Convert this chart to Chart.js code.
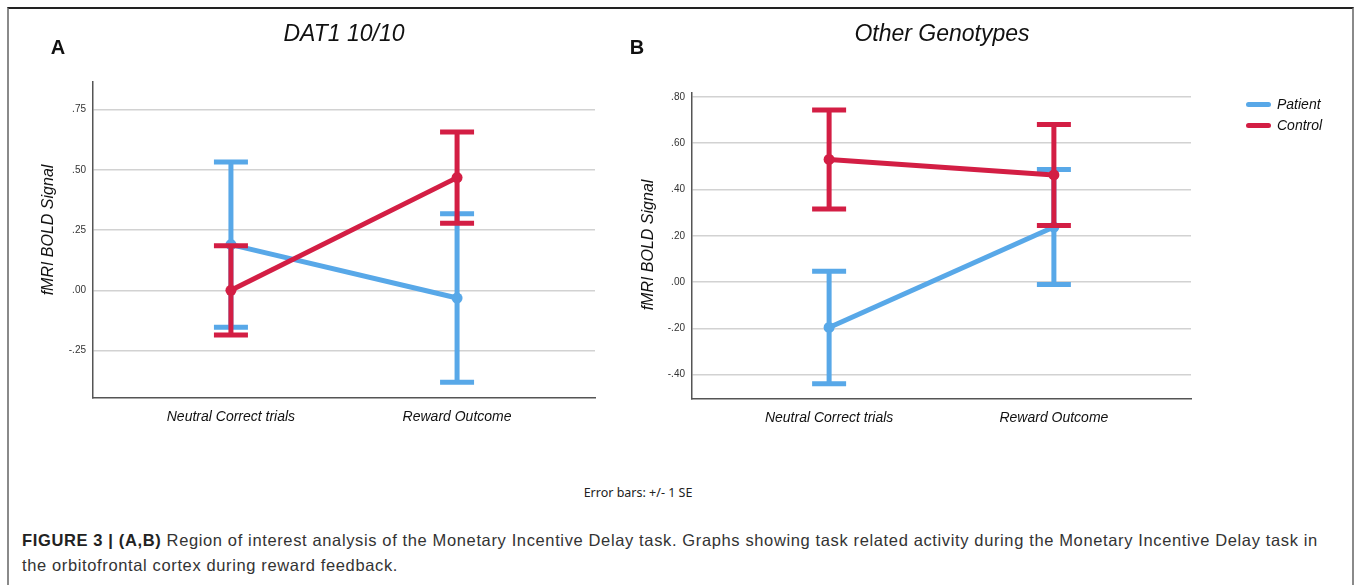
<!DOCTYPE html>
<html>
<head>
<meta charset="utf-8">
<title>Figure 3</title>
<script src="https://cdn.jsdelivr.net/npm/chart.js@4.4.1/dist/chart.umd.min.js"></script>
<style>
body { margin: 0; background: #fff; font-family: "Liberation Sans", Arial, sans-serif; }
#page { position: relative; width: 1357px; height: 585px; overflow: hidden; }
#frame { position: absolute; left: 7px; top: 7px; width: 1343px; height: 600px;
         border-top: 2px solid #222; border-left: 2px solid #8a8a8a; border-right: 2px solid #8a8a8a; }
canvas { position: absolute; top: 0; }
.txt { position: absolute; white-space: nowrap; color: #111; transform: translate(-50%, -50%); line-height: 1; }
.title { font-size: 23px; font-style: italic; }
.panel { font-size: 20px; font-weight: bold; }
.ytitle { font-size: 16px; font-style: italic; transform: translate(-50%, -50%) rotate(-90deg); }
.leg { position: absolute; font-size: 14px; font-style: italic; color: #111; line-height: 1; }
.sw { position: absolute; width: 25px; height: 5px; border-radius: 3px; }
#footer { font-family: "Noto Sans", sans-serif; font-size: 12.5px; color: #222; }
#caption { position: absolute; left: 22px; top: 528px; font-size: 16.5px; letter-spacing: 0.63px; line-height: 25px; color: #333; white-space: nowrap; }
#caption b { color: #222; }
</style>
</head>
<body>
<div id="page">
  <div id="frame"></div>
  <canvas id="chart_a" width="620" height="440" style="left:0px"></canvas>
  <canvas id="chart_b" width="737" height="440" style="left:620px"></canvas>

  <div class="txt title" style="left:344px; top:33px">DAT1 10/10</div>
  <div class="txt title" style="left:942px; top:33px">Other Genotypes</div>
  <div class="txt panel" style="left:58px; top:47px">A</div>
  <div class="txt panel" style="left:637px; top:47px">B</div>
  <div class="txt ytitle" style="left:48px; top:230px">fMRI BOLD Signal</div>
  <div class="txt ytitle" style="left:648px; top:245px">fMRI BOLD Signal</div>

  <div class="sw" style="left:1246px; top:102px; background:#58a8e8"></div>
  <div class="leg" style="left:1277px; top:97px">Patient</div>
  <div class="sw" style="left:1246px; top:123px; background:#d31e44"></div>
  <div class="leg" style="left:1277px; top:118px">Control</div>

  <div class="txt" id="footer" style="left:638px; top:493px">Error bars: +/- 1 SE</div>
  <div id="caption"><b>FIGURE 3 | (A,B)</b> Region of interest analysis of the Monetary Incentive Delay task. Graphs showing task related activity during the Monetary Incentive Delay task in<br>the orbitofrontal cortex during reward feedback.</div>
</div>

<script>
// categories on the x axis
var categories = ["Neutral Correct trials", "Reward Outcome"];

// panel A: DAT1 10/10 (means and +/- 1 SE)
var dat1_patient = [0.19, -0.032];
var dat1_patient_se = [0.343, 0.35];
var dat1_control = [0.0, 0.468];
var dat1_control_se = [0.185, 0.189];
var dat1_ticks = [0.75, 0.5, 0.25, 0, -0.25];

// panel B: other genotypes
var other_patient = [-0.196, 0.238];
var other_patient_se = [0.243, 0.248];
var other_control = [0.53, 0.463];
var other_control_se = [0.214, 0.218];
var other_ticks = [0.8, 0.6, 0.4, 0.2, 0, -0.2, -0.4];

var blue = "#58a8e8";
var red = "#d31e44";

// draws the +/- SE whiskers of a dataset right after the dataset itself
var errorBars = {
    id: "errorbars",
    afterDatasetDraw: function(chart, args) {
        var ds = chart.data.datasets[args.index];
        if (!ds.errors) return;
        var ctx = chart.ctx;
        var xs = chart.scales.x;
        var ys = chart.scales.y;
        ctx.save();
        ctx.strokeStyle = ds.borderColor;
        ctx.lineWidth = 5;
        for (var i = 0; i < ds.data.length; i++) {
            var px = xs.getPixelForValue(ds.data[i].x);
            var top = ys.getPixelForValue(ds.data[i].y + ds.errors[i]);
            var bot = ys.getPixelForValue(ds.data[i].y - ds.errors[i]);
            ctx.beginPath();
            ctx.moveTo(px, top); ctx.lineTo(px, bot);
            ctx.moveTo(px - 17, top); ctx.lineTo(px + 17, top);
            ctx.moveTo(px - 17, bot); ctx.lineTo(px + 17, bot);
            ctx.stroke();
        }
        ctx.restore();
    }
};

function points(values) {
    return values.map(function(v, i) { return {x: i, y: v}; });
}

function fmt_tick(v) {
    var s = Math.abs(v).toFixed(2).replace(/^0/, "");
    return (v < 0 ? "-" : "") + s;
}

function series(label, values, se, color, order) {
    return {
        label: label,
        data: points(values),
        errors: se,
        borderColor: color,
        backgroundColor: color,
        borderWidth: 5,
        pointRadius: 5.5,
        pointBorderWidth: 0,
        pointBackgroundColor: color,
        pointHoverRadius: 5.5,
        tension: 0,
        order: order
    };
}

function make_chart(canvas_id, patient, patient_se, control, control_se, ticks, ymin, ymax, pad, y_width, x_height) {
    var ctx = document.getElementById(canvas_id);
    return new Chart(ctx, {
        type: "line",
        data: {
            datasets: [
                series("Patient", patient, patient_se, blue, 1),
                series("Control", control, control_se, red, 0)
            ]
        },
        options: {
            responsive: false,
            animation: false,
            devicePixelRatio: 1,
            layout: { padding: pad },
            plugins: { legend: { display: false }, tooltip: { enabled: false } },
            scales: {
                x: {
                    type: "linear",
                    min: -0.61,
                    max: 1.61,
                    afterBuildTicks: function(s) { s.ticks = categories.map(function(c, i) { return {value: i}; }); },
                    afterFit: function(s) { s.height = x_height; },
                    grid: { display: false },
                    border: { display: true, color: "#555", width: 1.5 },
                    ticks: {
                        autoSkip: false,
                        maxRotation: 0,
                        padding: 3,
                        color: "#111",
                        font: { family: "Liberation Sans", size: 14, style: "italic" },
                        callback: function(v) { return categories[v]; }
                    }
                },
                y: {
                    type: "linear",
                    min: ymin,
                    max: ymax,
                    afterBuildTicks: function(s) { s.ticks = ticks.map(function(v) { return {value: v}; }); },
                    afterFit: function(s) { s.width = y_width; },
                    grid: { color: "#d2d2d2", lineWidth: 1.5, drawTicks: false },
                    border: { display: true, color: "#555", width: 1.5 },
                    ticks: {
                        autoSkip: false,
                        padding: 7,
                        color: "#333",
                        font: { family: "Liberation Sans", size: 10 },
                        callback: function(v) { return fmt_tick(v); }
                    }
                }
            }
        },
        plugins: [errorBars]
    });
}

var chart_a = make_chart("chart_a", dat1_patient, dat1_patient_se, dat1_control, dat1_control_se,
    dat1_ticks, -0.447, 0.865, {top: 82, left: 0, right: 25, bottom: 0}, 93, 42);
var chart_b = make_chart("chart_b", other_patient, other_patient_se, other_control, other_control_se,
    other_ticks, -0.505, 0.817, {top: 93, left: 0, right: 166, bottom: 0}, 72, 41);
</script>
</body>
</html>
